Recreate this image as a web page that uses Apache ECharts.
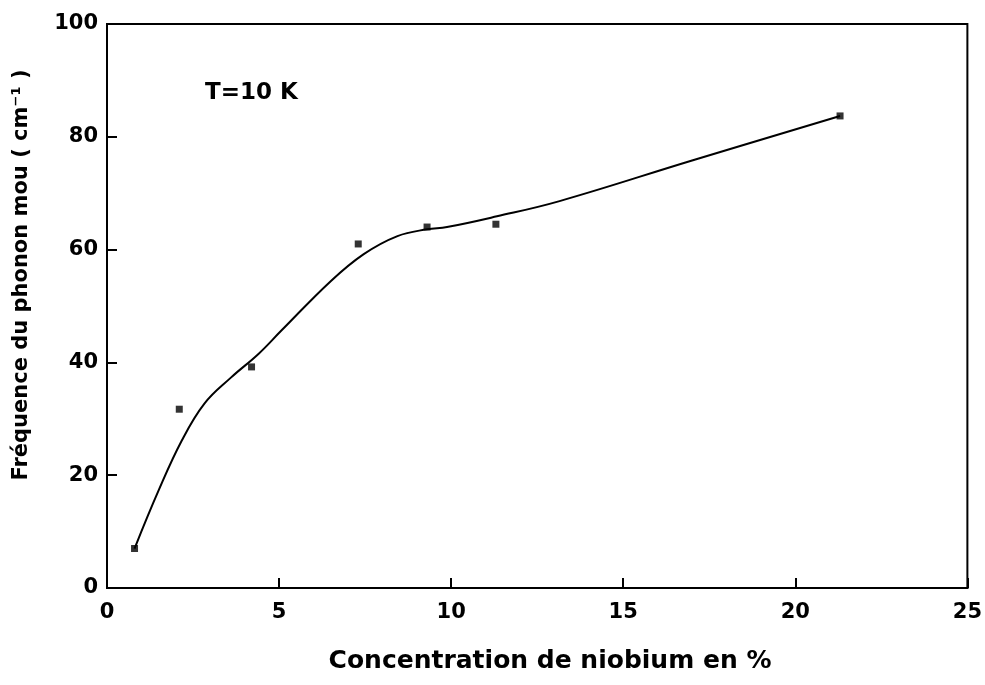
<!DOCTYPE html>
<html><head><meta charset="utf-8">
<script src="https://cdn.jsdelivr.net/npm/echarts@6/dist/echarts.min.js"></script>
<style>html,body{margin:0;padding:0;background:#fff}#c{width:985px;height:685px}</style>
</head><body><div id="c"></div>
<script>
// Measured points (Nb concentration %, soft phonon frequency cm^-1)
var pointX = [0.8, 2.1, 4.2, 7.3, 9.3, 11.3, 21.3];
var pointY = [7, 31.7, 39.2, 61, 64, 64.5, 83.7];
// Hand-drawn fit curve
var curveX = [0.8, 1.5, 2.17, 2.83, 3.6, 4.4, 5.06, 6.5, 7.46, 8.44, 9.3, 9.88, 11.33, 13.15, 17, 21.3];
var curveY = [7, 17.3, 26.1, 32.7, 37.3, 41.5, 45.6, 54.4, 59.2, 62.4, 63.6, 64, 65.9, 68.6, 75.8, 83.7];
var xTicks = [0, 5, 10, 15, 20, 25];
var yTicks = [0, 20, 40, 60, 80, 100];
var xTitle = 'Concentration de niobium en %';
var yTitle = 'Fréquence du phonon mou ( cm⁻¹ )';
var note = 'T=10 K';

var font = 'DejaVu Sans';
function zip(a, b) { return a.map(function (v, i) { return [v, b[i]]; }); }

var chart = echarts.init(document.getElementById('c'));
chart.setOption({
  animation: false,
  backgroundColor: '#fff',
  grid: { left: 107, right: 15, top: 24, bottom: 97, show: true, borderColor: '#000', borderWidth: 2, backgroundColor: 'transparent' },
  xAxis: {
    type: 'value', min: xTicks[0], max: xTicks[xTicks.length - 1], interval: 5,
    axisLine: { lineStyle: { color: '#000', width: 2 } },
    axisTick: { inside: true, length: 10, lineStyle: { color: '#000', width: 2 } },
    axisLabel: { margin: 14, fontFamily: font, fontWeight: 'bold', fontSize: 21, color: '#000' },
    splitLine: { show: false }
  },
  yAxis: {
    type: 'value', min: yTicks[0], max: yTicks[yTicks.length - 1], interval: 20,
    axisLine: { lineStyle: { color: '#000', width: 2 } },
    axisTick: { inside: true, length: 10, lineStyle: { color: '#000', width: 2 } },
    axisLabel: { margin: 9, fontFamily: font, fontWeight: 'bold', fontSize: 21, color: '#000' },
    splitLine: { show: false }
  },
  graphic: [
    { type: 'text', left: 205, top: 82, style: { text: note, font: 'bold 23px "DejaVu Sans"', fill: '#000' } },
    { type: 'text', x: 550, y: 661, style: { text: xTitle, font: 'bold 25px "DejaVu Sans"', fill: '#000', textAlign: 'center', textVerticalAlign: 'middle' } },
    { type: 'text', x: 22, y: 275, rotation: Math.PI / 2, style: { text: yTitle, font: 'bold 21px "DejaVu Sans"', fill: '#000', textAlign: 'center', textVerticalAlign: 'middle' } }
  ],
  series: [
    { type: 'line', data: zip(curveX, curveY), smooth: 0.4, showSymbol: false, symbol: 'none',
      lineStyle: { color: '#000', width: 2 }, z: 2 },
    { type: 'scatter', data: zip(pointX, pointY), symbol: 'rect', symbolSize: 7,
      itemStyle: { color: '#000' }, z: 3 }
  ]
});
</script></body></html>
